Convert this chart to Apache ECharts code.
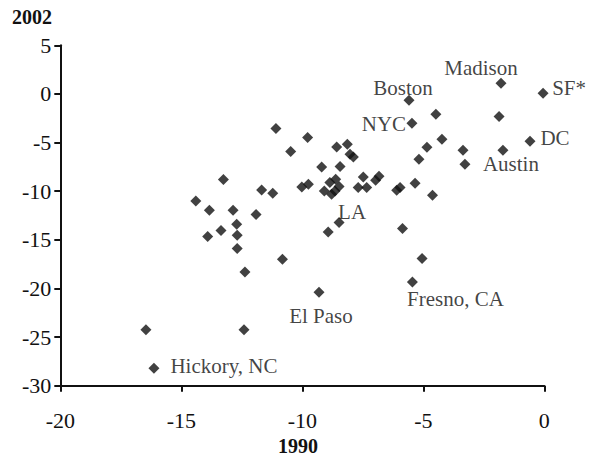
<!DOCTYPE html>
<html>
<head>
<meta charset="utf-8">
<script src="https://cdn.jsdelivr.net/npm/echarts@6/dist/echarts.min.js"></script>
<style>html,body{margin:0;padding:0;background:#fff}#c{width:595px;height:459px}</style>
</head>
<body>
<div id="c"></div>
<script>
// Change 1990 (x) vs change 2002 (y)
const x1990 = [-1.79,-0.05,-5.59,-5.47,-4.48,-1.87,-0.59,-3.28,-3.36,-1.71,-4.23,-4.85,-5.18,-5.34,-4.62,-6.10,-5.96,-6.97,-6.83,-7.48,-7.69,-7.34,-8.48,-8.62,-8.86,-8.79,-8.65,-9.09,-10.02,-9.75,-9.20,-8.44,-8.03,-7.89,-8.58,-8.14,-9.78,-10.48,-11.09,-11.68,-11.22,-13.26,-14.40,-13.84,-12.86,-11.91,-12.71,-13.36,-13.91,-12.69,-12.69,-12.37,-10.82,-16.46,-12.41,-16.13,-9.31,-5.45,-5.05,-5.86,-8.93,-8.48];
const y2002 = [1.10,0.07,-0.65,-3.01,-2.09,-2.31,-4.86,-7.23,-5.79,-5.79,-4.66,-5.48,-6.71,-9.18,-10.42,-9.90,-9.62,-8.87,-8.46,-8.53,-9.62,-9.62,-9.52,-8.77,-9.11,-10.31,-9.97,-9.97,-9.56,-9.28,-7.51,-7.46,-6.20,-6.48,-5.45,-5.17,-4.48,-5.92,-3.56,-9.87,-10.21,-8.80,-11.0,-11.96,-11.96,-12.40,-13.40,-14.05,-14.66,-14.53,-15.90,-18.30,-17.0,-24.26,-24.26,-28.20,-20.39,-19.33,-16.92,-13.84,-14.19,-13.22];
// labelled cities and the index of their point in the arrays above
const labelNames = ['Madison','SF*','Boston','NYC','DC','Austin','Hickory, NC','El Paso','Fresno, CA','LA'];
const labelIndex = [0,1,2,3,6,7,55,56,57,61];
const xTicks = [-20,-15,-10,-5,0];
const yTicks = [-30,-25,-20,-15,-10,-5,0,5];
const xTitle = '1990';
const yTitle = '2002';

// label placement (style only)
const labelOffsets = {
  'Madison':[-20,-15], 'SF*':[26,-5], 'Boston':[-6,-12], 'NYC':[-28,1],
  'DC':[25,-3], 'Austin':[46,0], 'LA':[13,-11], 'El Paso':[2,24],
  'Fresno, CA':[43,17], 'Hickory, NC':[70,-2]
};

const FONT = 'Liberation Serif';
const TXT = '#111';

const data = x1990.map((x, i) => {
  const k = labelIndex.indexOf(i);
  const n = k >= 0 ? labelNames[k] : '';
  const item = { value: [x, y2002[i]], name: n };
  if (n) {
    item.label = { show: true, position: 'inside', offset: labelOffsets[n], formatter: n,
      fontFamily: FONT, fontSize: 21, color: TXT };
  }
  return item;
});

const chart = echarts.init(document.getElementById('c'), null, { renderer: 'svg' });
chart.setOption({
  animation: false,
  backgroundColor: '#fff',
  grid: { left: 60.3, right: 50.7, top: 45.3, bottom: 73.3, containLabel: false },
  xAxis: {
    type: 'value', min: xTicks[0], max: xTicks[xTicks.length-1], interval: 5,
    axisLine: { onZero: false, lineStyle: { color: '#111', width: 2 } },
    axisTick: { show: true, length: 6, lineStyle: { color: '#111', width: 2 } },
    axisLabel: { margin: 24, fontFamily: FONT, fontSize: 22, color: TXT },
    splitLine: { show: false }
  },
  yAxis: {
    type: 'value', min: yTicks[0], max: yTicks[yTicks.length-1], interval: 5,
    axisLine: { show: true, onZero: false, lineStyle: { color: '#111', width: 2 } },
    axisTick: { show: true, length: 6, lineStyle: { color: '#111', width: 2 } },
    axisLabel: { margin: 9, fontFamily: FONT, fontSize: 22, color: TXT },
    splitLine: { show: false }
  },
  graphic: [
    { type: 'text', left: 12, top: 7, style: { text: yTitle, fontFamily: FONT, fontSize: 20, fontWeight: 'bold', fill: TXT } },
    { type: 'text', left: 278, top: 436, style: { text: xTitle, fontFamily: FONT, fontSize: 20, fontWeight: 'bold', fill: TXT } }
  ],
  series: [{
    type: 'scatter',
    symbol: 'diamond',
    symbolSize: 11,
    itemStyle: { color: '#111' },
    label: { show: false },
    emphasis: { disabled: true },
    data: data
  }]
});
</script>
</body>
</html>
